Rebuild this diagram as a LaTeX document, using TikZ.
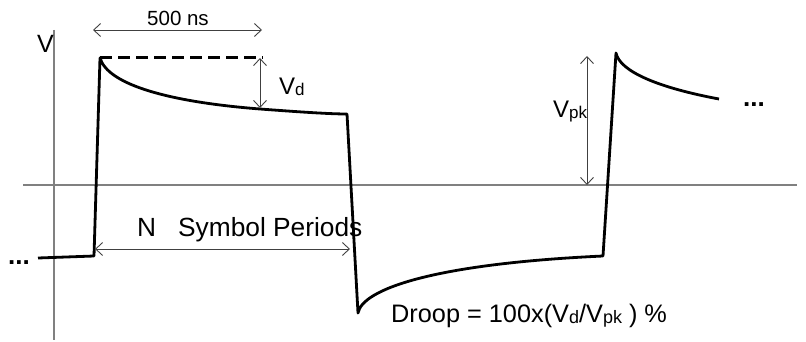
\documentclass[tikz,border=0pt]{standalone}
\usepackage{fontspec}
\setmainfont{Liberation Sans}
\usetikzlibrary{arrows.meta}
\begin{document}
\begin{tikzpicture}[x=1pt,y=-1pt,
  axis/.style={draw=black!50, line width=1.5pt},
  wave/.style={draw=black, line width=2.8pt, line join=round},
  droopdash/.style={draw=black, line width=3pt, dash pattern=on 12pt off 6pt},
  dim/.style={draw=black!75, line width=0.9pt,
    {Straight Barb[length=7pt,width=13pt]}-{Straight Barb[length=7pt,width=13pt]}},
  lbl/.style={inner sep=0pt, anchor=base west},
  ]
\useasboundingbox (0,0) rectangle (806,342);
% axes
\coordinate (axtop) at (54,30);
\coordinate (axbot) at (54,340);
\coordinate (hxl) at (23,185);
\coordinate (hxr) at (797,185);
\draw[axis] (axtop) -- (axbot);
\draw[axis] (hxl) -- (hxr);
% waveform
\coordinate (w0) at (38,258);
\coordinate (w1) at (94,256);
\coordinate (w2) at (100,58);
\coordinate (w2b) at (260,109);
\coordinate (w3) at (347,114);
\coordinate (w4) at (358,313);
\coordinate (w5) at (603,256);
\coordinate (w6) at (616,53);
\coordinate (w7) at (719,99);
\coordinate (dend) at (263,58);
\draw[droopdash] (w2) -- (dend);
\draw[wave] (w0) -- (w1) -- (w2)
  .. controls (108,85) and (170,102) .. (w2b)
  .. controls (300,112) and (330,114) .. (w3)
  -- (w4)
  .. controls (362,290) and (430,264) .. (w5)
  -- (w6)
  .. controls (620,72) and (660,88) .. (w7);
% dimension arrows
\coordinate (ta) at (93,30);
\coordinate (tb) at (262,30);
\coordinate (vdt) at (260,58);
\coordinate (vdb) at (260,108);
\coordinate (vpt) at (587,56);
\coordinate (vpb) at (587,185);
\coordinate (nl) at (95,249);
\coordinate (nr) at (350,249);
\draw[dim] (ta) -- (tb);
\draw[dim] (vdt) -- (vdb);
\draw[dim] (vpt) -- (vpb);
\draw[dim] (nl) -- (nr);
% labels
\node[lbl, font=\fontsize{25}{30}\selectfont] (vlab) at (37,53) {V};
\node[inner sep=0pt, anchor=base, font=\fontsize{20.5}{24}\selectfont] (t500) at (178,26) {500 ns};
\node[lbl, font=\fontsize{24}{28}\selectfont] (vdlab) at (279,95) {V\raisebox{-1pt}{\fontsize{17}{20}\selectfont d}};
\node[lbl, font=\fontsize{24}{28}\selectfont] (vpklab) at (553,118) {V\raisebox{-1pt}{\fontsize{17}{20}\selectfont pk}};
\node[lbl, font=\fontsize{26.3}{30}\selectfont] (nlab) at (137,236) {N\hspace{22pt}Symbol Periods};
\node[lbl, font=\fontsize{25.3}{30}\selectfont] (droop) at (391,322)
  {Droop = 100x(V\raisebox{-1pt}{\fontsize{18}{20}\selectfont d}/V\raisebox{-1pt}{\fontsize{18}{20}\selectfont pk} ) \%};
\node[lbl, font=\fontsize{26}{30}\selectfont\bfseries] (dotsl) at (8,264) {...};
\node[lbl, font=\fontsize{26}{30}\selectfont\bfseries] (dotsr) at (743,107) {...};
\end{tikzpicture}
\end{document}
